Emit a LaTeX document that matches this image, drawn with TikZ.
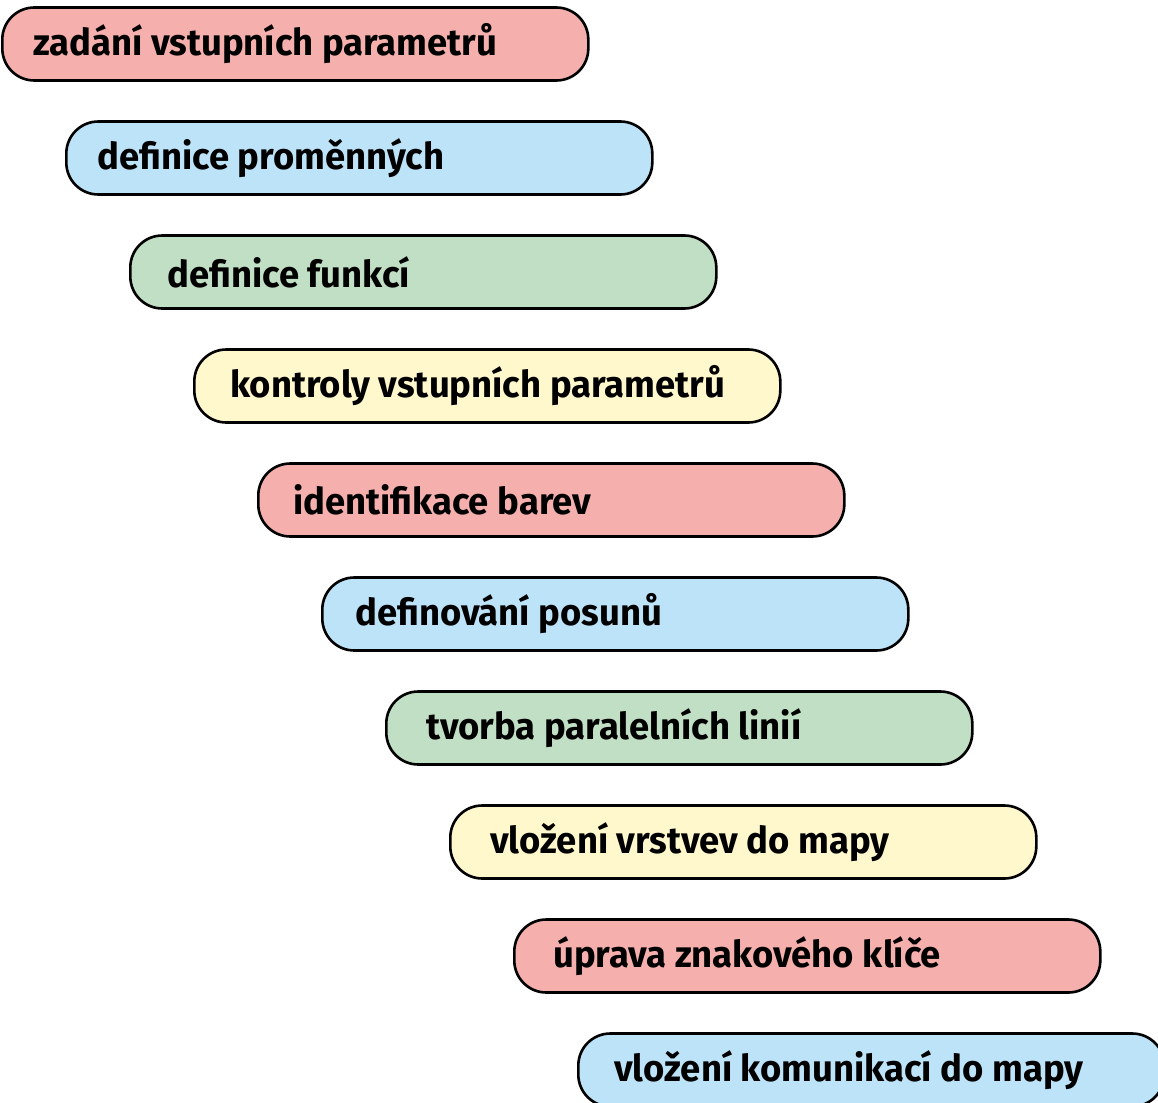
\documentclass[tikz,border=0pt]{standalone}
\usepackage{fontspec}
\setmainfont{Fira Sans}[UprightFont=* SemiBold, BoldFont=* Bold, FakeStretch=0.985]
\definecolor{cpink}{RGB}{245,176,174}
\definecolor{cblue}{RGB}{189,227,248}
\definecolor{cgreen}{RGB}{193,223,196}
\definecolor{cyellow}{RGB}{255,248,204}
\begin{document}
\begin{tikzpicture}[x=1pt,y=-1pt,
  stepbox/.style={draw=black, line width=2.6pt, rounded corners=32pt, minimum width=586pt, minimum height=73pt, inner sep=0pt, anchor=west},
  lbl/.style={anchor=west, inner sep=0pt, font=\fontsize{37}{40}\selectfont\bfseries, text=black}]
\useasboundingbox (0,0) rectangle (1158,1102);
\clip (0,0) rectangle (1158,1102);
\foreach \i/\c/\o/\t in {0/cpink/32/{zadání vstupních parametrů},
  1/cblue/32/{definice proměnných},
  2/cgreen/38/{definice funkcí},
  3/cyellow/37/{kontroly vstupních parametrů},
  4/cpink/36/{identifikace barev},
  5/cblue/34/{definování posunů},
  6/cgreen/41/{tvorba paralelních linií},
  7/cyellow/41/{vložení vrstvev do mapy},
  8/cpink/40/{úprava znakového klíče},
  9/cblue/37/{vložení komunikací do mapy}}{
  \node[stepbox, fill=\c] (b\i) at ({1+64*\i}, {44+114*\i}) {};
  \node[lbl] (t\i) at ([xshift=\o pt]b\i.west) {\t};
}
\end{tikzpicture}
\end{document}
